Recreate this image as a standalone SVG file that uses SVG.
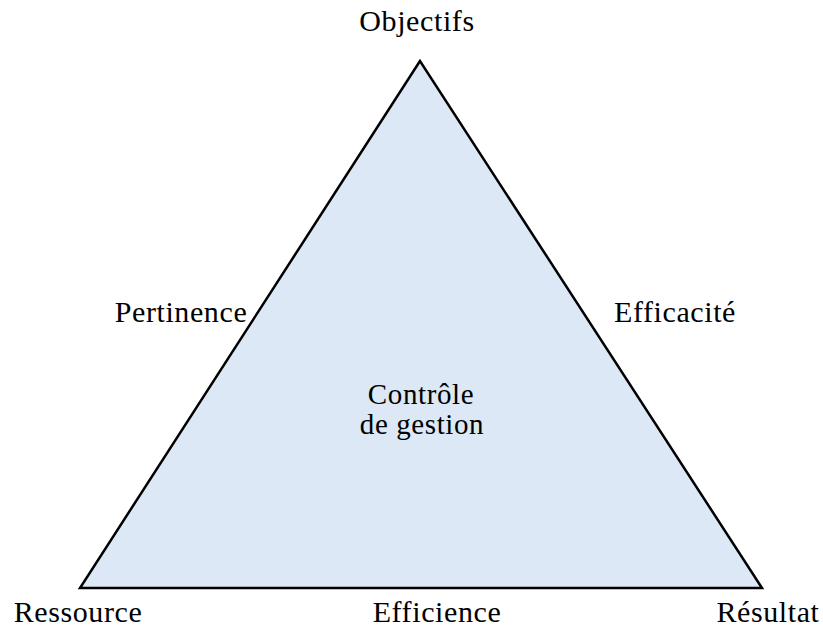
<svg xmlns="http://www.w3.org/2000/svg" width="823" height="628" viewBox="0 0 823 628">
<style>
.t { font-family: "Liberation Serif", "Times New Roman", "DejaVu Serif", serif; font-size: 30px; letter-spacing: 0.6px; fill: #000; }
.c { font-size: 29px; }
.tri { fill: #dce8f5; stroke: #000; stroke-width: 2.5; stroke-linejoin: miter; }
</style>
<rect width="823" height="628" fill="#fff"/>
<g id="triangle">
<polygon class="tri" points="420,61 80,588 762,588"/>
</g>
<g id="center">
<text class="t c" x="421" y="404" text-anchor="middle">Contrôle</text>
<text class="t c" x="422" y="434" text-anchor="middle">de gestion</text>
</g>
<g id="objectifs"><text class="t" x="417" y="31" text-anchor="middle">Objectifs</text></g>
<g id="pertinence"><text class="t" x="181" y="322" text-anchor="middle">Pertinence</text></g>
<g id="efficacite"><text class="t" x="675" y="322" text-anchor="middle">Efficacité</text></g>
<g id="ressource"><text class="t" x="78" y="622" text-anchor="middle">Ressource</text></g>
<g id="efficience"><text class="t" x="437" y="622" text-anchor="middle">Efficience</text></g>
<g id="resultat"><text class="t" x="768" y="622" text-anchor="middle">Résultat</text></g>
</svg>
